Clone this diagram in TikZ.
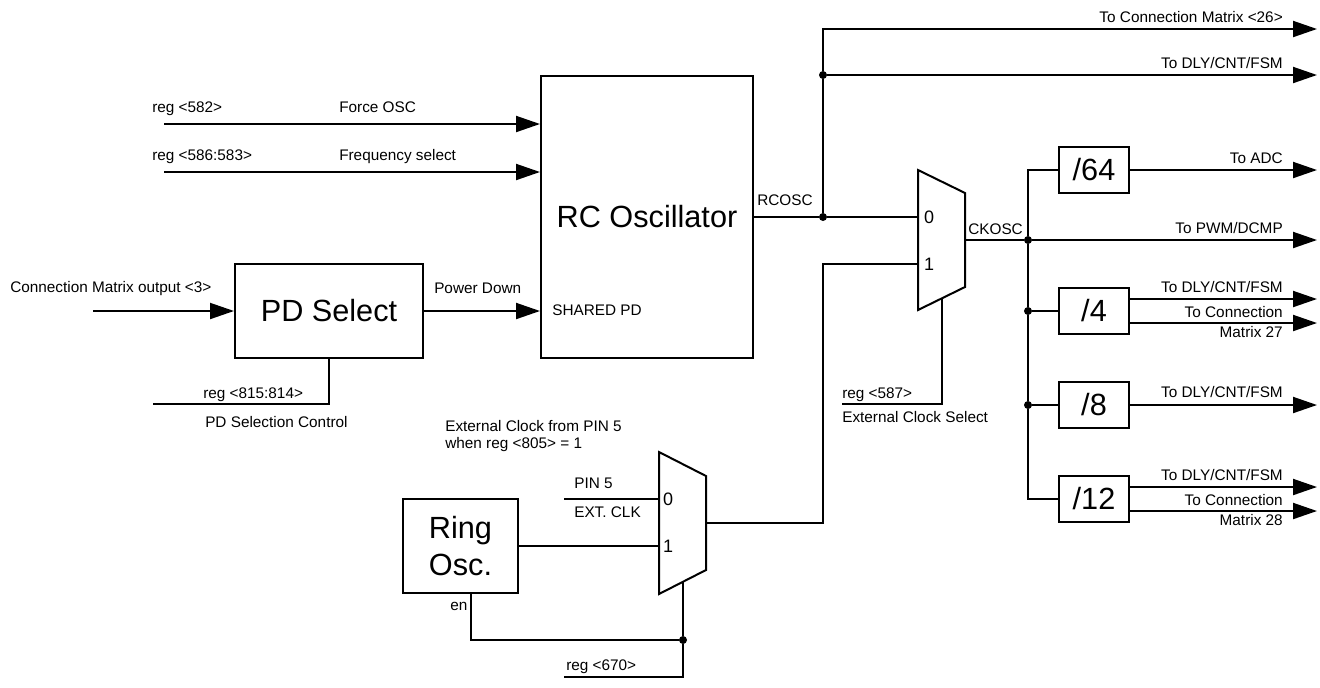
\documentclass[tikz,border=0pt]{standalone}
\usepackage{fontspec}
\setmainfont{Liberation Sans}
\usetikzlibrary{arrows.meta}
\tikzset{%
  blk/.style  = {draw, line width=1.5pt, inner sep=0pt, align=center,%
                 font=\fontsize{23}{28}\selectfont},%
  div/.style  = {blk, minimum width=53pt, minimum height=35pt},%
  lbl/.style  = {inner sep=0pt, align=left, font=\fontsize{11.5}{12.75}\selectfont},%
  sel/.style  = {inner sep=0pt, font=\fontsize{13.5}{16}\selectfont},%
  dot/.style  = {circle, fill, inner sep=0pt, minimum size=6pt},%
  wire/.style = {line width=1.5pt},%
  sig/.style  = {wire, -{Triangle[length=18pt,width=12pt]}}%
}
\begin{document}
\begin{tikzpicture}[x=0.75pt, y=-0.75pt]
	\useasboundingbox (0,0) rectangle (1320,687);
	% blocks
	\node[blk, minimum width=159pt, minimum height=211.5pt] (rc) at (647,217) {RC Oscillator};
	\node[blk, minimum width=141pt, minimum height=70.5pt] (pd) at (329,311) {PD Select};
	\node[blk, minimum width=86pt, minimum height=70.5pt] (ring) at (460.5,546) {Ring\\Osc.};
	\node[div] (d64) at (1094,170) {/64};
	\node[div] (d4) at (1094,311) {/4};
	\node[div] (d8) at (1094,405) {/8};
	\node[div] (d12) at (1094,499) {/12};
	% muxes
	\draw[wire] (918,170) -- (965,193) -- (965,287) -- (918,310) -- cycle;
	\coordinate (m1a) at (918,217);
	\coordinate (m1b) at (918,264);
	\coordinate (m1y) at (965,240);
	\coordinate (m1s) at (942,298);
	\node[sel] (m1l0) at (929,217) {0};
	\node[sel] (m1l1) at (929,264) {1};
	\draw[wire] (659,452) -- (706,476) -- (706,570) -- (659,594) -- cycle;
	\coordinate (m2a) at (659,499);
	\coordinate (m2b) at (659,546);
	\coordinate (m2y) at (706,523);
	\coordinate (m2s) at (683,582);
	\node[sel] (m2l0) at (668,499) {0};
	\node[sel] (m2l1) at (668,546) {1};
	% free ends
	\coordinate (fo) at (164,124);
	\coordinate (fs) at (164,172);
	\coordinate (cm) at (93,311);
	\coordinate (pdc) at (153,404);
	\coordinate (o26) at (1317,29);
	\coordinate (oend) at (1317,0);
	\coordinate (r587) at (842,404);
	\coordinate (pin5) at (564,499);
	\coordinate (en) at (471,593);
	\coordinate (r670) at (564,677);
	% junctions
	\node[dot] (j1) at (823,217) {};
	\node[dot] (j2) at (823,75) {};
	\node[dot] (j3) at (1028,240) {};
	\node[dot] (j4) at (1028,311) {};
	\node[dot] (j5) at (1028,405) {};
	\node[dot] (j6) at (683,640) {};
	% RC oscillator side
	\draw[sig] (fo) -- (fo -| rc.west);
	\draw[sig] (fs) -- (fs -| rc.west);
	\draw[sig] (cm) -- (pd.west);
	\draw[sig] (pd.east) -- (pd.east -| rc.west);
	\draw[wire] (pd.south) |- (pdc);
	\draw[wire] (rc.east) -- (j1) -- (m1a);
	\draw[wire] (j1) -- (j2);
	\draw[sig] (j2) |- (o26);
	\draw[sig] (j2) -- (j2 -| oend);
	% clock out
	\draw[wire] (m1y) -- (j3);
	\draw[sig] (j3) -- (j3 -| oend);
	\draw[wire] (d64.west) -| (j3);
	\draw[wire] (j3) -- (j4) -- (j5) |- (d12.west);
	\draw[wire] (j4) -- (d4.west);
	\draw[wire] (j5) -- (d8.west);
	\draw[sig] (d64.east) -- (d64.east -| oend);
	\draw[sig] ([yshift=9pt]d4.east) -- ([yshift=9pt]d4.east -| oend);
	\draw[sig] ([yshift=-9pt]d4.east) -- ([yshift=-9pt]d4.east -| oend);
	\draw[sig] (d8.east) -- (d8.east -| oend);
	\draw[sig] ([yshift=9pt]d12.east) -- ([yshift=9pt]d12.east -| oend);
	\draw[sig] ([yshift=-9pt]d12.east) -- ([yshift=-9pt]d12.east -| oend);
	% external clock
	\draw[wire] (m2y) -| (j1 |- m1b) -- (m1b);
	\draw[wire] (m1s) |- (r587);
	\draw[wire] (pin5) -- (m2a);
	\draw[wire] (ring.east) -- (m2b);
	\draw[wire] (en) |- (j6);
	\draw[wire] (m2s) -- (j6);
	\draw[wire] (j6) |- (r670);
	% labels
	\node[lbl, anchor=base west] (t582) at (152,112) {reg <582>};
	\node[lbl, anchor=base west] (tfo) at (339,112) {Force OSC};
	\node[lbl, anchor=base west] (t586) at (152,160) {reg <586:583>};
	\node[lbl, anchor=base west] (tfs) at (339,160) {Frequency select};
	\node[lbl, anchor=base west] (tcm) at (10,292) {Connection Matrix output <3>};
	\node[lbl, anchor=base west] (tpd) at (434,293) {Power Down};
	\node[lbl, anchor=base west] (tsh) at (552,315) {SHARED PD};
	\node[lbl, anchor=base west] (t815) at (203,398) {reg <815:814>};
	\node[lbl, anchor=base west] (tpdc) at (205,427) {PD Selection Control};
	\node[lbl, anchor=base west] (trc) at (757,205) {RCOSC};
	\node[lbl, anchor=base west] (tck) at (968,234) {CKOSC};
	\node[lbl, anchor=base west] (t587) at (842,398) {reg <587>};
	\node[lbl, anchor=base west] (tecs) at (842,422) {External Clock Select};
	\node[lbl, anchor=base west] (text) at (445,448) {External Clock from PIN 5\\when reg <805> = 1};
	\node[lbl, anchor=base west] (tpin) at (574,488) {PIN 5};
	\node[lbl, anchor=base west] (tclk) at (574,517) {EXT. CLK};
	\node[lbl, anchor=base west] (ten) at (450,610) {en};
	\node[lbl, anchor=base west] (t670) at (566,670) {reg <670>};
	\node[lbl, anchor=base east] (o1) at (1283,22) {To Connection Matrix <26>};
	\node[lbl, anchor=base east] (o2) at (1283,68) {To DLY/CNT/FSM};
	\node[lbl, anchor=base east] (o3) at (1283,163) {To ADC};
	\node[lbl, anchor=base east] (o4) at (1283,233) {To PWM/DCMP};
	\node[lbl, anchor=base east] (o5) at (1283,292) {To DLY/CNT/FSM};
	\node[lbl, anchor=base east] (o6) at (1283,317) {To Connection};
	\node[lbl, anchor=base east] (o7) at (1283,337) {Matrix 27};
	\node[lbl, anchor=base east] (o8) at (1283,397) {To DLY/CNT/FSM};
	\node[lbl, anchor=base east] (o9) at (1283,480) {To DLY/CNT/FSM};
	\node[lbl, anchor=base east] (o10) at (1283,505) {To Connection};
	\node[lbl, anchor=base east] (o11) at (1283,525) {Matrix 28};
\end{tikzpicture}
\end{document}
